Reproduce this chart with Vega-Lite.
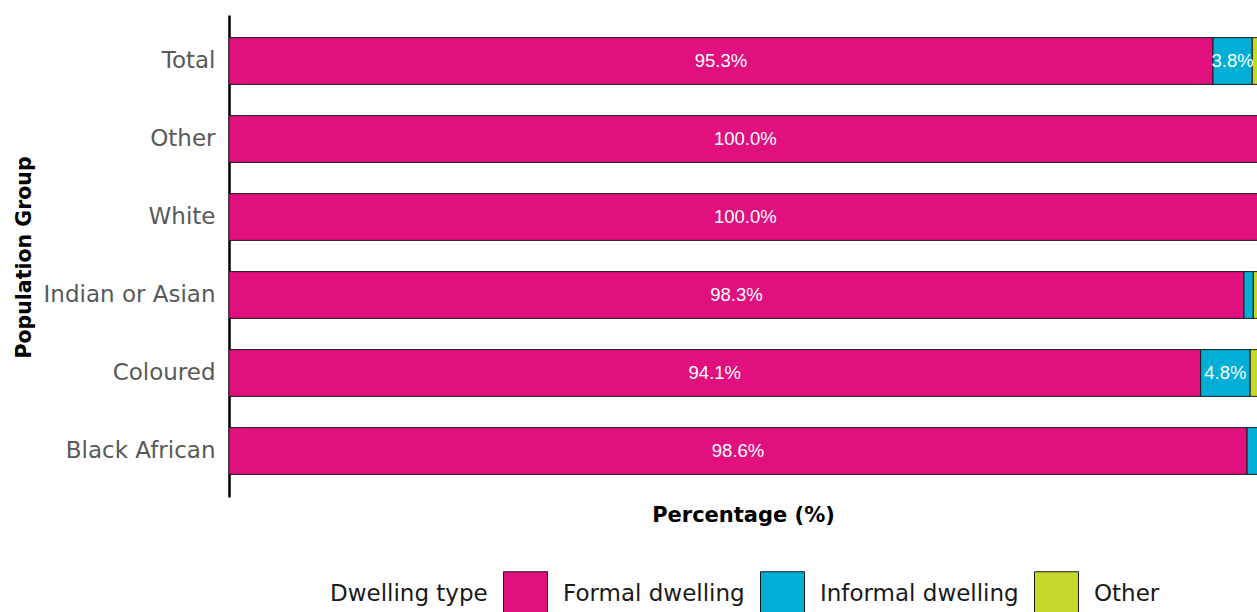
{
  "$schema": "https://vega.github.io/schema/vega-lite/v6.json",
  "width": 1028,
  "height": 482,
  "autosize": {"type": "none"},
  "padding": {"left": 229, "top": 15, "right": 0, "bottom": 115},
  "background": "white",
  "config": {"view": {"stroke": null}},
  "data": {
    "values": [
      {"group": "Total", "type": "Formal dwelling", "value": 95.3},
      {"group": "Total", "type": "Informal dwelling", "value": 3.8},
      {"group": "Total", "type": "Other", "value": 0.9},
      {"group": "Other", "type": "Formal dwelling", "value": 100.0},
      {"group": "Other", "type": "Informal dwelling", "value": 0},
      {"group": "Other", "type": "Other", "value": 0},
      {"group": "White", "type": "Formal dwelling", "value": 100.0},
      {"group": "White", "type": "Informal dwelling", "value": 0},
      {"group": "White", "type": "Other", "value": 0},
      {"group": "Indian or Asian", "type": "Formal dwelling", "value": 98.3},
      {"group": "Indian or Asian", "type": "Informal dwelling", "value": 0.9},
      {"group": "Indian or Asian", "type": "Other", "value": 0.8},
      {"group": "Coloured", "type": "Formal dwelling", "value": 94.1},
      {"group": "Coloured", "type": "Informal dwelling", "value": 4.8},
      {"group": "Coloured", "type": "Other", "value": 1.1},
      {"group": "Black African", "type": "Formal dwelling", "value": 98.6},
      {"group": "Black African", "type": "Informal dwelling", "value": 1.4},
      {"group": "Black African", "type": "Other", "value": 0}
    ]
  },
  "transform": [
    {"stack": "value", "groupby": ["group"], "sort": [{"field": "type", "order": "ascending"}], "as": ["v0", "v1"]},
    {"calculate": "(datum.v0 + datum.v1) / 2", "as": "mid"},
    {"calculate": "format(datum.value, '.1f') + '%'", "as": "label"}
  ],
  "encoding": {
    "y": {
      "field": "group",
      "type": "nominal",
      "sort": ["Total", "Other", "White", "Indian or Asian", "Coloured", "Black African"],
      "scale": {"paddingInner": 0.4, "paddingOuter": 0.29},
      "axis": {
        "title": "Population Group",
        "titleFont": "DejaVu Sans",
        "titleFontSize": 20.5,
        "titleFontWeight": "bold",
        "titleColor": "#000000",
        "titleX": -195,
        "titleY": 242,
        "labelFont": "DejaVu Sans",
        "labelFontSize": 23,
        "labelColor": "#595959",
        "labelPadding": 14,
        "labelLimit": 400,
        "ticks": false,
        "domain": true,
        "domainColor": "#000000",
        "domainWidth": 2.5
      }
    }
  },
  "layer": [
    {
      "mark": {"type": "bar", "stroke": "#1a1a1a", "strokeWidth": 1, "clip": true},
      "encoding": {
        "x": {
          "field": "v0",
          "type": "quantitative",
          "scale": {"domain": [0, 99.56], "nice": false, "zero": true},
          "axis": {
            "title": "Percentage (%)",
            "titleFont": "DejaVu Sans",
            "titleFontSize": 21,
            "titleFontWeight": "bold",
            "titleColor": "#000000",
            "titlePadding": 7,
            "labels": false,
            "ticks": false,
            "domain": false,
            "grid": false
          }
        },
        "x2": {"field": "v1"},
        "color": {
          "field": "type",
          "type": "nominal",
          "scale": {
            "domain": ["Formal dwelling", "Informal dwelling", "Other"],
            "range": ["#E0107F", "#00AED6", "#C4D82E"]
          },
          "legend": {
            "title": "Dwelling type",
            "orient": "none",
            "legendX": 101,
            "legendY": 556,
            "direction": "horizontal",
            "titleOrient": "left",
            "titleBaseline": "middle",
            "symbolType": "square",
            "symbolSize": 1936,
            "symbolStrokeColor": "#1a1a1a",
            "symbolStrokeWidth": 1,
            "symbolOpacity": 1,
            "labelFont": "DejaVu Sans",
            "labelFontSize": 23,
            "labelColor": "#1a1a1a",
            "labelLimit": 400,
            "titleFont": "DejaVu Sans",
            "titleFontSize": 23,
            "titleFontWeight": "normal",
            "titleColor": "#1a1a1a",
            "titleLimit": 400,
            "titlePadding": 15,
            "labelOffset": 15,
            "columnPadding": 13
          }
        }
      }
    },
    {
      "transform": [{"filter": "datum.value >= 3"}],
      "mark": {"type": "text", "color": "white", "font": "Liberation Sans", "fontSize": 18.5, "baseline": "middle", "align": "center"},
      "encoding": {
        "x": {"field": "mid", "type": "quantitative"},
        "text": {"field": "label"}
      }
    }
  ]
}
